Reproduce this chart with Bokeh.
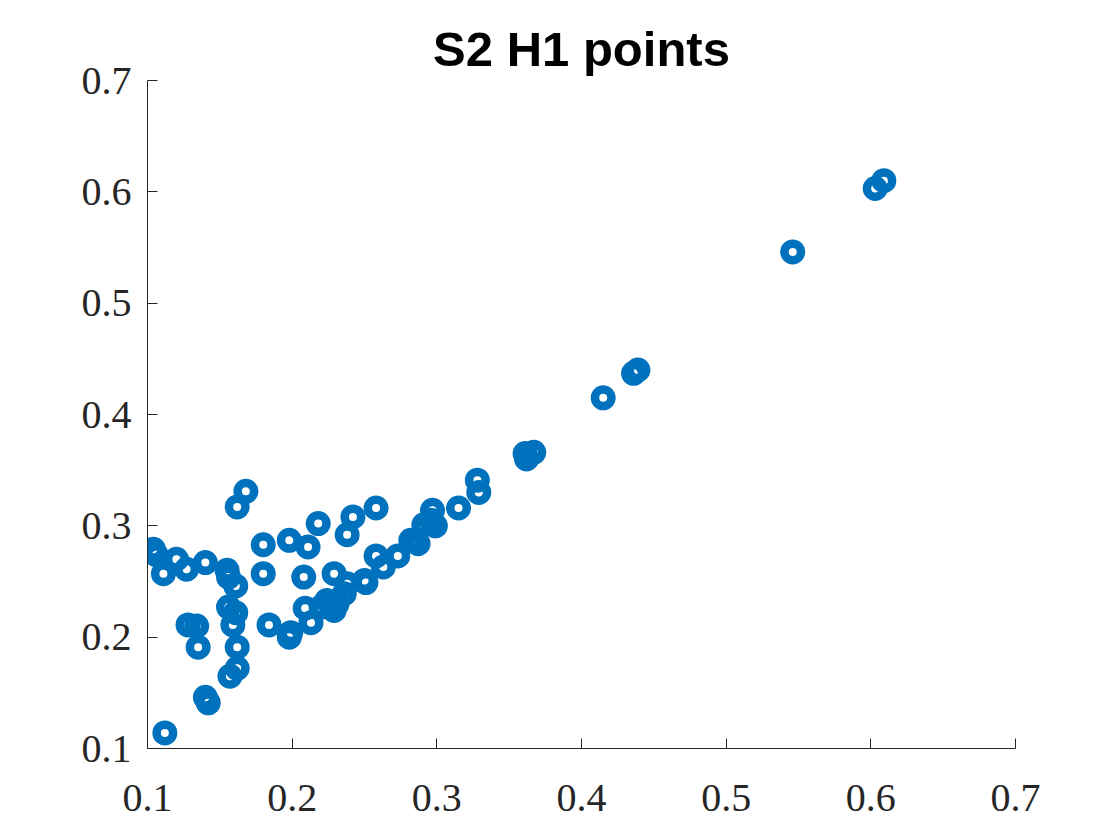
from bokeh.plotting import figure
from bokeh.models import Range1d, FixedTicker
from bokeh.embed import file_html
from bokeh.resources import INLINE

# Data
x_vals = [0.609, 0.603, 0.546, 0.415, 0.439, 0.436, 0.361, 0.367, 0.362, 0.328,
          0.329, 0.315, 0.297, 0.296, 0.299, 0.291, 0.282, 0.287, 0.273, 0.258,
          0.263, 0.250, 0.242, 0.238, 0.258, 0.218, 0.229, 0.238, 0.236, 0.231,
          0.224, 0.220, 0.229, 0.209, 0.213, 0.199, 0.198, 0.184, 0.208, 0.180,
          0.180, 0.198, 0.211, 0.168, 0.162, 0.104, 0.106, 0.111, 0.120, 0.127,
          0.140, 0.155, 0.156, 0.161, 0.156, 0.161, 0.128, 0.134, 0.135, 0.159,
          0.162, 0.162, 0.157, 0.140, 0.142, 0.112, 0.251]
y_vals = [0.610, 0.603, 0.546, 0.415, 0.440, 0.437, 0.365, 0.366, 0.360, 0.341,
          0.330, 0.316, 0.314, 0.305, 0.300, 0.301, 0.287, 0.284, 0.273, 0.273,
          0.263, 0.251, 0.308, 0.292, 0.316, 0.302, 0.257, 0.248, 0.239, 0.230,
          0.233, 0.227, 0.224, 0.226, 0.213, 0.204, 0.200, 0.211, 0.254, 0.257,
          0.283, 0.287, 0.281, 0.331, 0.317, 0.279, 0.274, 0.257, 0.270, 0.261,
          0.267, 0.260, 0.254, 0.246, 0.227, 0.222, 0.211, 0.210, 0.191, 0.211,
          0.191, 0.172, 0.165, 0.146, 0.141, 0.114, 0.249]
tick_values = [0.1, 0.2, 0.3, 0.4, 0.5, 0.6, 0.7]
title_text = "S2 H1 points"

p = figure(width=1100, height=820, output_backend="svg", toolbar_location=None,
           x_range=Range1d(0.1, 0.7), y_range=Range1d(0.1, 0.7),
           min_border_left=147, min_border_right=85, min_border_top=80,
           min_border_bottom=72, title=title_text)
p.frame_width = 868
p.frame_height = 668

p.title.text_font = "Liberation Sans"
p.title.text_font_size = "49px"
p.title.text_font_style = "bold"
p.title.align = "center"
p.title.text_color = "black"

p.scatter(x_vals, y_vals, marker="circle", size=16.5, line_width=8.5,
          fill_color=None, line_color="#0072BD")

p.outline_line_color = None
p.xgrid.visible = False
p.ygrid.visible = False
p.background_fill_color = "white"
p.border_fill_color = "white"

for ax in (p.xaxis[0], p.yaxis[0]):
    ax.ticker = FixedTicker(ticks=tick_values)
    ax.minor_tick_line_color = None
    ax.major_tick_in = 10
    ax.major_tick_out = 0
    ax.axis_line_color = "#262626"
    ax.major_tick_line_color = "#262626"
    ax.major_label_text_font = "Liberation Serif"
    ax.major_label_text_font_size = "40px"
    ax.major_label_text_color = "#262626"

p.xaxis[0].major_label_standoff = 36
p.yaxis[0].major_label_standoff = 16

open("out.html", "w").write(file_html(p, INLINE))
